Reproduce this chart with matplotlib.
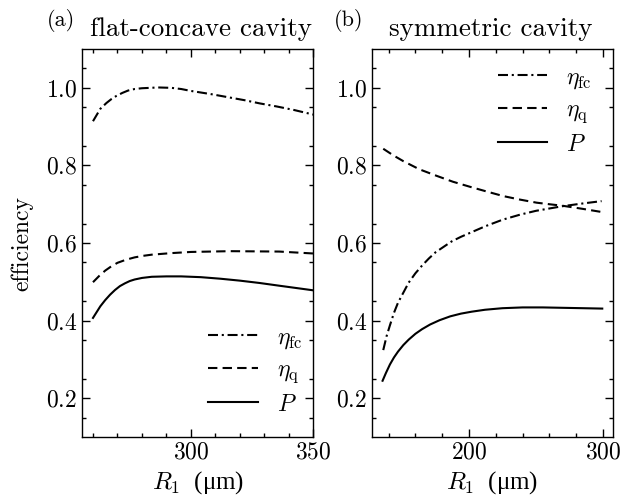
"""Efficiency vs R1 for a flat-concave and a symmetric cavity (two panels)."""

import matplotlib

matplotlib.use("Agg")
import matplotlib.pyplot as plt

# (a) flat-concave cavity
r_fc_a = [260, 261.5, 263, 265.5, 267.5, 269.5, 272, 274.3, 277, 280, 286.6,
          292, 296, 300, 308, 315, 322, 328, 335, 342, 350]
eta_fc_a = [0.914, 0.930, 0.946, 0.961, 0.971, 0.979, 0.987, 0.993, 0.997,
            0.999, 1.001, 1.000, 0.997, 0.992, 0.984, 0.976, 0.968, 0.960,
            0.952, 0.943, 0.931]
r_q_a = [260, 262.5, 265, 267.5, 270, 273.5, 277, 280.5, 284, 292, 300, 316,
         336, 350]
eta_q_a = [0.499, 0.515, 0.529, 0.540, 0.549, 0.557, 0.563, 0.567, 0.570,
           0.574, 0.577, 0.579, 0.578, 0.573]
r_p_a = [260, 261.5, 263, 265, 267, 269, 271, 273, 275, 277, 280, 284, 290,
         296, 304, 312, 320, 328, 336, 343, 350]
p_a = [0.407, 0.422, 0.437, 0.453, 0.467, 0.479, 0.489, 0.496, 0.502, 0.506,
       0.510, 0.513, 0.514, 0.514, 0.512, 0.508, 0.503, 0.497, 0.490, 0.484,
       0.478]

# (b) symmetric cavity
r_fc_b = [136, 138.5, 141, 144, 147, 151, 155, 160, 165, 170, 175, 181, 187,
          194, 202, 212, 225, 238, 250, 260, 270, 285, 299]
eta_fc_b = [0.324, 0.360, 0.388, 0.420, 0.446, 0.472, 0.498, 0.522, 0.542,
            0.560, 0.576, 0.590, 0.604, 0.616, 0.628, 0.643, 0.660, 0.673,
            0.683, 0.689, 0.695, 0.702, 0.708]
r_q_b = [136, 143.5, 151, 163, 176, 188, 200.7, 213, 225.6, 238, 250.5, 260,
         270, 285, 299]
eta_q_b = [0.843, 0.826, 0.811, 0.790, 0.773, 0.758, 0.745, 0.733, 0.721,
           0.712, 0.704, 0.700, 0.696, 0.688, 0.680]
r_p_b = [135.5, 138, 141, 144, 147, 151, 155, 160, 165, 171, 178, 186, 194,
         202, 212, 225, 240, 255, 270, 285, 299.5]
p_b = [0.245, 0.265, 0.287, 0.305, 0.320, 0.337, 0.351, 0.366, 0.378, 0.390,
       0.401, 0.411, 0.418, 0.423, 0.428, 0.432, 0.434, 0.434, 0.433, 0.432,
       0.431]

LABELS = [r"$\eta_{\rm fc}$", r"$\eta_{\rm q}$", r"$P$"]
DASHDOT = (0, (4.8, 1.8, 1.0, 1.8))
DASHED = (0, (4.5, 2.5))

plt.rcParams.update({
    "font.family": ["cmr10"],
    "mathtext.fontset": "cm",
    "axes.unicode_minus": False,
    "axes.formatter.use_mathtext": True,
    "font.size": 17,
    "axes.linewidth": 1.0,
    "xtick.direction": "in",
    "ytick.direction": "in",
    "xtick.top": True,
    "ytick.right": True,
    "xtick.major.size": 5.5,
    "ytick.major.size": 5.5,
    "xtick.minor.size": 3.0,
    "ytick.minor.size": 3.0,
    "xtick.minor.visible": True,
    "ytick.minor.visible": True,
})

fig = plt.figure(figsize=(6.32, 4.98), dpi=100)
ax_a = fig.add_axes([0.1297, 0.1225, 0.3663, 0.779])
ax_b = fig.add_axes([0.5886, 0.1225, 0.3813, 0.779])

for ax, (xf, yf), (xq, yq), (xp, yp) in [
    (ax_a, (r_fc_a, eta_fc_a), (r_q_a, eta_q_a), (r_p_a, p_a)),
    (ax_b, (r_fc_b, eta_fc_b), (r_q_b, eta_q_b), (r_p_b, p_b)),
]:
    ax.plot(xf, yf, color="black", lw=1.5, linestyle=DASHDOT, label=LABELS[0])
    ax.plot(xq, yq, color="black", lw=1.5, linestyle=DASHED, label=LABELS[1])
    ax.plot(xp, yp, color="black", lw=1.5, label=LABELS[2])
    ax.set_ylim(0.1, 1.1)
    ax.set_yticks([0.2, 0.4, 0.6, 0.8, 1.0])
    ax.set_yticks([0.15 + 0.1 * i for i in range(10)], minor=True)
    # cmr10 has no usable micro sign, so this label uses a Times-like serif
    ax.set_xlabel("$R_1$  (\u03bcm)", family="Liberation Serif", fontsize=18)
    ax.tick_params(which="both", width=1.0)

ax_a.set_xlim(255.5, 350)
ax_a.set_xticks([300, 350])
ax_a.set_xticks(range(260, 350, 10), minor=True)
ax_a.set_ylabel("efficiency", labelpad=9)
ax_a.legend(loc="lower right", frameon=False, handlelength=2.1,
            labelspacing=0.35, bbox_to_anchor=(1.043, 0.0))

ax_b.set_xlim(127.6, 307.5)
ax_b.set_xticks([200, 300])
ax_b.set_xticks(range(140, 300, 20), minor=True)
ax_b.legend(loc="upper right", frameon=False, handlelength=2.1,
            labelspacing=0.35, bbox_to_anchor=(1.0, 1.01))

fig.text(47 / 632, 1 - 26 / 498, "(a)", fontsize=16)
fig.text(90 / 632, 1 - 36 / 498, "flat-concave cavity", fontsize=19.5)
fig.text(334 / 632, 1 - 26 / 498, "(b)", fontsize=16)
fig.text(389 / 632, 1 - 36 / 498, "symmetric cavity", fontsize=19.5)

fig.savefig("out.png", dpi=100)
